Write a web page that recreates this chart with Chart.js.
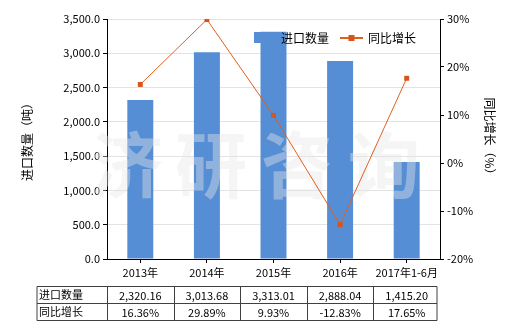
<!DOCTYPE html>
<html><head><meta charset="utf-8">
<script src="https://cdn.jsdelivr.net/npm/chart.js@4/dist/chart.umd.min.js"></script>
<style>html,body{margin:0;padding:0;background:#fff;}canvas{display:block;}</style>
</head><body>
<canvas id="c" width="520" height="330"></canvas>
<script>
const categories = ['2013年','2014年','2015年','2016年','2017年1-6月'];
const importQty = [2320.16, 3013.68, 3313.01, 2888.04, 1415.20];
const yoyGrowth = [16.36, 29.89, 9.93, -12.83, 17.65];
const seriesNames = ['进口数量','同比增长'];
const leftTicks = {min:0, max:3500, step:500};
const rightTicks = {min:-20, max:30, step:10};
const watermarkText = ['济','研','咨','询'];

const FONT = '"Noto Sans CJK SC", "Noto Sans", sans-serif';
const BAR_COLOR = '#558ED5';
const LINE_COLOR = '#E0601C';

const fmtQty = v => v.toLocaleString('en-US',{minimumFractionDigits:2, maximumFractionDigits:2});

const watermarkPlugin = {
  id:'watermark',
  afterDatasetDraw(chart, args){
    if (args.index !== 1) return;
    const ctx = chart.ctx;
    const xs = [127, 211, 297, 384];
    ctx.save();
    ctx.font = 'bold 72px ' + FONT;
    ctx.fillStyle = 'rgba(231,231,231,0.41)';
    ctx.textAlign = 'center';
    ctx.textBaseline = 'middle';
    watermarkText.forEach((t,i)=>ctx.fillText(t, xs[i], 165));
    ctx.restore();
  }
};

const legendTablePlugin = {
  id:'legendTable',
  afterDraw(chart){
    const ctx = chart.ctx;
    const ca = chart.chartArea;
    ctx.save();
    // legend
    ctx.font = '12px ' + FONT;
    ctx.textBaseline = 'middle';
    ctx.textAlign = 'left';
    ctx.fillStyle = BAR_COLOR;
    ctx.fillRect(254, 32, 12, 11);
    ctx.fillStyle = '#000';
    ctx.fillText(seriesNames[0], 281, 38);
    ctx.strokeStyle = LINE_COLOR;
    ctx.lineWidth = 2;
    ctx.beginPath(); ctx.moveTo(340, 38); ctx.lineTo(363, 38); ctx.stroke();
    ctx.fillStyle = '#D9541A';
    ctx.fillRect(348.5, 35, 6, 6);
    ctx.fillStyle = '#000';
    ctx.fillText(seriesNames[1], 368, 38);

    // table
    const n = categories.length;
    const cw = (ca.right - ca.left) / n;
    const left = 37, right = ca.right - 3;
    const rows = [286.5, 303.5, 320.5];
    ctx.strokeStyle = '#404040';
    ctx.lineWidth = 1;
    ctx.beginPath();
    rows.forEach(y=>{ctx.moveTo(left, y); ctx.lineTo(right, y);});
    const cols = [left];
    for (let i=0;i<n;i++) cols.push(Math.round(ca.left + i*cw)+0.5);
    cols.push(right);
    cols.forEach(x=>{ctx.moveTo(x, rows[0]); ctx.lineTo(x, rows[2]);});
    ctx.stroke();
    ctx.font = '11px ' + FONT;
    ctx.fillStyle = '#000';
    ctx.textAlign = 'left';
    ctx.fillText(seriesNames[0], 39, 295);
    ctx.fillText(seriesNames[1], 39, 312);
    ctx.textAlign = 'center';
    const xs = chart.scales.x;
    for (let i=0;i<n;i++){
      const cx = xs.getPixelForValue(i);
      ctx.fillText(fmtQty(importQty[i]), cx, 295.5);
      ctx.fillText(yoyGrowth[i].toFixed(2)+'%', cx, 312.5);
    }
    ctx.restore();
  }
};

new Chart(document.getElementById('c'), {
  type:'bar',
  data:{
    labels: categories,
    datasets:[
      {type:'line', label:seriesNames[1], data:yoyGrowth, yAxisID:'y1', order:0,
       borderColor:LINE_COLOR, borderWidth:1, pointStyle:'rect', pointRadius:3.5,
       pointBackgroundColor:'#D9541A', pointBorderColor:'#D9541A', pointBorderWidth:0, tension:0},
      {type:'bar', label:seriesNames[0], data:importQty, yAxisID:'y', order:1,
       backgroundColor:BAR_COLOR, barPercentage:0.39, categoryPercentage:1}
    ]
  },
  options:{
    responsive:false, animation:false,
    layout:{padding:{top:19, bottom:46, left:0, right:0}},
    plugins:{legend:{display:false}, tooltip:{enabled:false}},
    scales:{
      x:{
        offset:true,
        grid:{drawOnChartArea:false, drawTicks:true, tickLength:4, offset:false, tickColor:'#000'},
        border:{color:'#000'},
        ticks:{font:{family:FONT, size:11}, color:'#000', padding:3, maxRotation:0, autoSkip:false},
        afterFit(s){ s.height = 25; s.paddingLeft = 0; s.paddingRight = 0; }
      },
      y:{
        position:'left', min:leftTicks.min, max:leftTicks.max,
        grid:{color:'#e3e3e3', tickColor:'#000', tickLength:4},
        border:{color:'#000'},
        ticks:{stepSize:leftTicks.step, font:{family:FONT, size:11}, color:'#000', padding:3,
          callback:v=>v.toLocaleString('en-US',{minimumFractionDigits:1, maximumFractionDigits:1})},
        title:{display:true, text:'进口数量（吨）', font:{family:FONT, size:12}, color:'#000', padding:{top:20, bottom:0}},
        afterFit(s){ s.width = 107; s.paddingTop = 0; s.paddingBottom = 0; }
      },
      y1:{
        position:'right', min:rightTicks.min, max:rightTicks.max,
        grid:{drawOnChartArea:false, tickColor:'#000', tickLength:4},
        border:{color:'#000'},
        ticks:{stepSize:rightTicks.step, font:{family:FONT, size:11}, color:'#000', padding:3,
          callback:v=>v+'%'},
        title:{display:true, text:'同比增长（%）', font:{family:FONT, size:12}, color:'#000', padding:{top:23, bottom:0}},
        afterFit(s){ s.width = 80; s.paddingTop = 0; s.paddingBottom = 0; }
      }
    }
  },
  plugins:[watermarkPlugin, legendTablePlugin]
});
</script>
</body></html>
